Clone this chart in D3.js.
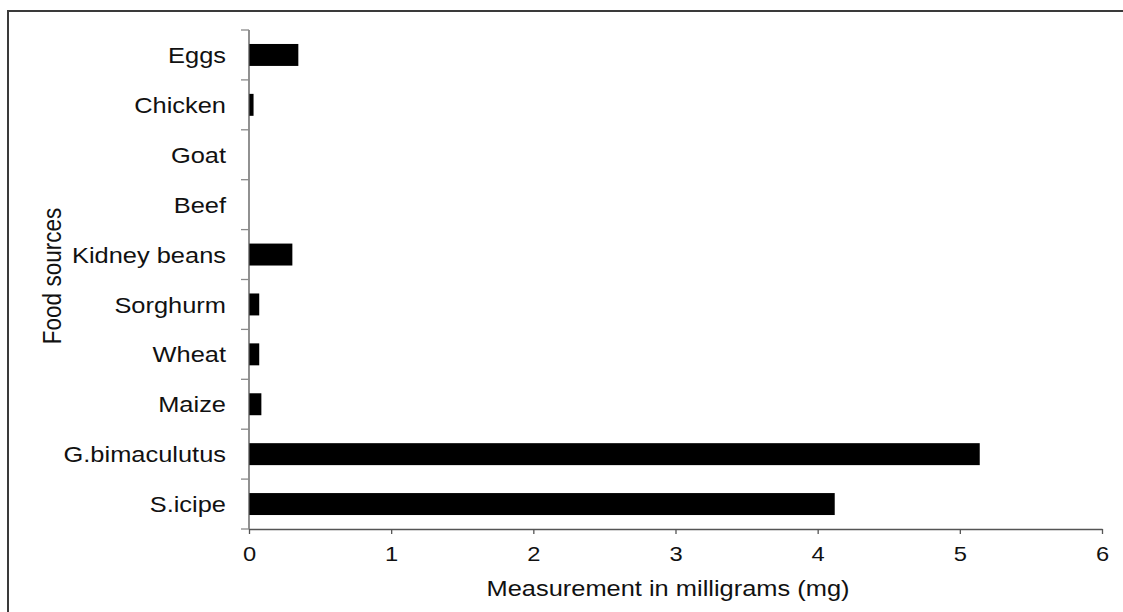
<!DOCTYPE html>
<html>
<head>
<meta charset="utf-8">
<script src="https://cdn.jsdelivr.net/npm/d3@7/dist/d3.min.js"></script>
<style>
  html, body { margin: 0; padding: 0; background: #fff; }
  svg { display: block; }
  text { font-family: "Liberation Sans", Arial, sans-serif; fill: #111; }
</style>
</head>
<body>
<svg id="chart" width="1123" height="612"></svg>
<script>
const categories = ["Eggs", "Chicken", "Goat", "Beef", "Kidney beans", "Sorghurm", "Wheat", "Maize", "G.bimaculutus", "S.icipe"];
const values = [0.347, 0.032, 0, 0, 0.305, 0.072, 0.072, 0.087, 5.14, 4.12];
const xTicks = [0, 1, 2, 3, 4, 5, 6];
const xTitle = "Measurement in milligrams (mg)";
const yTitle = "Food sources";

(function () {
const svg = d3.select("#chart");
const W = 1123, H = 612;
const mLeft = 249, mRight = 1102, mTop = 30, mBottom = 529;
const stretch = 1.13;
const fs = 22.5;

// outer frame (left + top edges visible)
svg.append("path")
  .attr("d", `M8,${H} V11 H${W}`)
  .attr("fill", "none").attr("stroke", "#3a3a3a").attr("stroke-width", 2);

const x = d3.scaleLinear().domain([0, 6]).range([mLeft, mRight]);
const y = d3.scaleBand().domain(categories).range([mTop, mBottom])
  .paddingInner(0.56).paddingOuter(0.28);

// bars
svg.append("g").selectAll("rect").data(categories).join("rect")
  .attr("x", x(0))
  .attr("y", d => y(d))
  .attr("height", y.bandwidth())
  .attr("width", (d, i) => x(values[i]) - x(0))
  .attr("fill", "#000");

// y axis: line + boundary ticks
const gy = svg.append("g");
gy.append("line").attr("x1", mLeft).attr("x2", mLeft).attr("y1", mTop).attr("y2", mBottom)
  .attr("stroke", "#555").attr("stroke-width", 1.3);
const gap = (y.step() - y.bandwidth()) / 2;
const bounds = categories.map(c => y(c) - gap).concat([mBottom]);
gy.selectAll("line.tick").data(bounds).join("line").attr("class", "tick")
  .attr("x1", mLeft - 8).attr("x2", mLeft)
  .attr("y1", d => d).attr("y2", d => d)
  .attr("stroke", "#8a8a8a").attr("stroke-width", 1.3);
gy.selectAll("text").data(categories).join("text")
  .attr("transform", d => `translate(226,${y(d) + y.bandwidth() / 2}) scale(${stretch},1)`)
  .attr("text-anchor", "end").attr("dy", "0.36em")
  .style("font-size", fs + "px")
  .text(d => d);

// x axis
const gx = svg.append("g").attr("transform", `translate(0,${mBottom})`);
const axis = d3.axisBottom(x).tickValues(xTicks).tickFormat(d3.format("d")).tickSize(5).tickSizeOuter(0);
gx.call(axis);
gx.select(".domain").attr("stroke", "#555").attr("stroke-width", 1.3);
gx.selectAll(".tick line").attr("stroke", "#555").attr("stroke-width", 1.3);
gx.selectAll(".tick text")
  .attr("y", 0).attr("dy", 0)
  .attr("transform", `translate(0,32) scale(${stretch},1)`)
  .style("font-size", "21px").style("font-family", "Liberation Sans, Arial, sans-serif").attr("fill", "#111");

// axis titles
svg.append("text")
  .attr("transform", `translate(668,596) scale(${stretch},1)`)
  .attr("text-anchor", "middle")
  .style("font-size", fs + "px")
  .text(xTitle);

svg.append("text")
  .attr("transform", `translate(61,276) scale(${stretch},1) rotate(-90)`)
  .attr("text-anchor", "middle")
  .style("font-size", fs + "px")
  .text(yTitle);
})();
</script>
</body>
</html>
